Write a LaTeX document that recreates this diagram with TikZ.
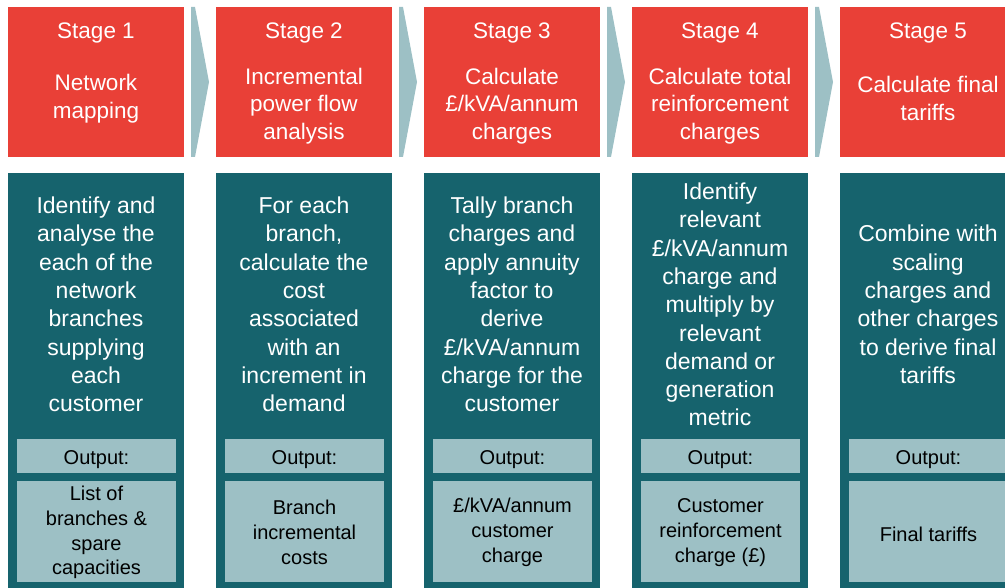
\documentclass[tikz,border=0pt]{standalone}
\usepackage{fontspec}
\setmainfont{Liberation Sans}
\definecolor{stagered}{HTML}{E94037}
\definecolor{deepteal}{HTML}{16636D}
\definecolor{paleteal}{HTML}{9DC0C5}
\tikzset{
  stagebox/.style={fill=stagered, draw=none, minimum width=176pt, minimum height=150pt, inner sep=0pt},
  stagetext/.style={text=white, font=\fontsize{22.5}{27.6}\selectfont, align=center, inner sep=0pt},
  detailbox/.style={fill=deepteal, draw=none, minimum width=176pt, minimum height=417pt, inner sep=0pt},
  detailtext/.style={text=white, font=\fontsize{23}{28.3}\selectfont, align=center, inner sep=0pt},
  outlabel/.style={fill=paleteal, draw=none, minimum width=159pt, minimum height=34pt, inner sep=0pt},
  outbox/.style={fill=paleteal, draw=none, minimum width=159pt, minimum height=101pt, inner sep=0pt},
  plaintext/.style={inner sep=0pt, align=center},
  chevron/.style={fill=paleteal}
}
\begin{document}
\begin{tikzpicture}[x=1pt,y=-1pt]
\useasboundingbox (0,0) rectangle (1005,588);
\clip (0,0) rectangle (1005,588);

% stage headers
\node[stagebox] (h1) at (96,82) {};
\node[stagebox] (h2) at (304,82) {};
\node[stagebox] (h3) at (512,82) {};
\node[stagebox] (h4) at (720,82) {};
\node[stagebox] (h5) at (928,82) {};

\node[stagetext] (t1) at (96,33) {Stage 1};
\node[stagetext] (t2) at (304,33) {Stage 2};
\node[stagetext] (t3) at (512,33) {Stage 3};
\node[stagetext] (t4) at (720,33) {Stage 4};
\node[stagetext] (t5) at (928,33) {Stage 5};

\node[stagetext] (n1) at (96,98.5) {Network\\mapping};
\node[stagetext] (n2) at (304,106) {Incremental\\power flow\\analysis};
\node[stagetext] (n3) at (512,106) {Calculate\\£/kVA/annum\\charges};
\node[stagetext] (n4) at (720,106) {Calculate total\\reinforcement\\charges};
\node[stagetext] (n5) at (928,98.5) {Calculate final\\tariffs};

% arrows between stage headers
\foreach \i in {0,...,3}{
  \fill[chevron, shift={(208*\i,0)}] (191,7) -- (195,7) -- (209,82) -- (195,157) -- (191,157) -- cycle;
}

% detail columns
\node[detailbox] (d1) at (96,381.5) {};
\node[detailbox] (d2) at (304,381.5) {};
\node[detailbox] (d3) at (512,381.5) {};
\node[detailbox] (d4) at (720,381.5) {};
\node[detailbox] (d5) at (928,381.5) {};

\node[detailtext] (e1) at (96,304.5) {Identify and\\analyse the\\each of the\\network\\branches\\supplying\\each\\customer};
\node[detailtext] (e2) at (304,304.5) {For each\\branch,\\calculate the\\cost\\associated\\with an\\increment in\\demand};
\node[detailtext] (e3) at (512,304.5) {Tally branch\\charges and\\apply annuity\\factor to\\derive\\£/kVA/annum\\charge for the\\customer};
\node[detailtext] (e4) at (720,304.5) {Identify\\relevant\\£/kVA/annum\\charge and\\multiply by\\relevant\\demand or\\generation\\metric};
\node[detailtext] (e5) at (928,304.5) {Combine with\\scaling\\charges and\\other charges\\to derive final\\tariffs};

% output labels
\node[outlabel] (o1) at (96.5,456) {};
\node[outlabel] (o2) at (304.5,456) {};
\node[outlabel] (o3) at (512.5,456) {};
\node[outlabel] (o4) at (720.5,456) {};
\node[outlabel] (o5) at (928.5,456) {};
\foreach \i in {1,...,5}{
  \node[plaintext, font=\fontsize{20}{24.6}\selectfont] (ol\i) at ([yshift=-3.5pt]o\i.center) {Output:};
}

% outputs
\node[outbox] (r1) at (96.5,531.5) {};
\node[outbox] (r2) at (304.5,531.5) {};
\node[outbox] (r3) at (512.5,531.5) {};
\node[outbox] (r4) at (720.5,531.5) {};
\node[outbox] (r5) at (928.5,531.5) {};
\begin{scope}[every node/.style={plaintext, font=\fontsize{20}{24.8}\selectfont}]
\node (rl1) at ([yshift=-1pt]r1.center) {List of\\branches \&\\spare\\capacities};
\node (rl2) at ([yshift=-1pt]r2.center) {Branch\\incremental\\costs};
\node (rl3) at ([yshift=-1pt]r3.center) {£/kVA/annum\\customer\\charge};
\node (rl4) at ([yshift=-1pt]r4.center) {Customer\\reinforcement\\charge (£)};
\node (rl5) at ([yshift=-3pt]r5.center) {Final tariffs};
\end{scope}
\end{tikzpicture}
\end{document}
